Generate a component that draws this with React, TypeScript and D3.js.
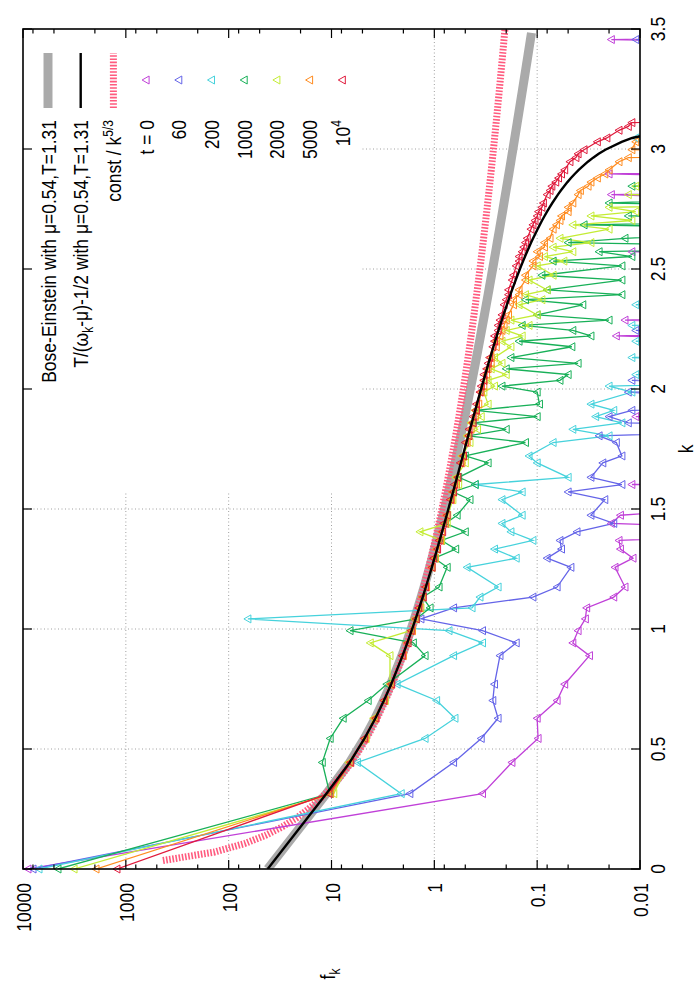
import * as d3 from "d3";

// k shells (|k| of lattice modes) up to 3.5
const kValues = [
  0, 0.314, 0.444, 0.544, 0.628, 0.702, 0.770,
  0.889, 0.942, 0.993, 1.042, 1.088, 1.133, 1.175,
  1.257, 1.295, 1.333, 1.369, 1.405, 1.440, 1.474,
  1.539, 1.571, 1.602, 1.632,
  1.692, 1.721,
  1.777, 1.805, 1.832, 1.859, 1.885, 1.911, 1.937,
  1.987, 2.012, 2.036, 2.060, 2.084, 2.107, 2.131,
  2.176, 2.199, 2.221, 2.244, 2.265, 2.287, 2.309,
  2.351, 2.372, 2.393, 2.413,
  2.454, 2.474,
  2.513, 2.533, 2.552, 2.572, 2.591, 2.610, 2.628,
  2.666, 2.684, 2.702, 2.721, 2.739, 2.757, 2.775,
  2.810, 2.827, 2.845, 2.862, 2.879, 2.896, 2.913,
  2.947, 2.964, 2.980, 2.997,
  3.030, 3.046,
  3.078, 3.094, 3.110, 3.126, 3.142, 3.157, 3.173,
  3.204, 3.219, 3.235, 3.250, 3.265, 3.280, 3.295,
  3.340, 3.354, 3.369, 3.384, 3.398, 3.413,
  3.441, 3.456, 3.470, 3.484,
];

// f_k per time (1e-4 = below the plotted range)
const fT0 = [
  8940, 0.34, 0.176, 0.098, 0.1, 0.064, 0.054,
  0.031, 0.045, 0.04, 0.034, 0.033, 0.018, 0.014,
  0.0175, 0.0117, 0.0155, 0.016, 1e-4, 0.019, 0.0155,
  1e-4, 1e-4, 0.012, 1e-4,
  1e-4, 1e-4,
  1e-4, 1e-4, 1e-4, 1e-4, 0.011, 1e-4, 1e-4,
  1e-4, 1e-4, 1e-4, 1e-4, 1e-4, 1e-4, 1e-4,
  1e-4, 1e-4, 0.017, 1e-4, 1e-4, 0.014, 1e-4,
  1e-4, 1e-4, 1e-4, 1e-4,
  1e-4, 1e-4,
  1e-4, 1e-4, 1e-4, 0.012, 1e-4, 1e-4, 1e-4,
  1e-4, 1e-4, 1e-4, 1e-4, 1e-4, 1e-4, 1e-4,
  0.019, 1e-4, 1e-4, 1e-4, 1e-4, 0.02, 1e-4,
  1e-4, 1e-4, 1e-4, 1e-4,
  1e-4, 1e-4,
  1e-4, 1e-4, 1e-4, 1e-4, 1e-4, 1e-4, 1e-4,
  1e-4, 1e-4, 1e-4, 1e-4, 1e-4, 1e-4, 1e-4,
  1e-4, 1e-4, 1e-4, 1e-4, 1e-4, 1e-4,
  1e-4, 0.019, 1e-4, 1e-4,
];

const fT60 = [
  7990, 1.73, 0.65, 0.35, 0.24, 0.27, 0.26,
  0.23, 0.16, 0.34, 1.35, 0.65, 0.11, 0.064,
  0.047, 0.08, 0.058, 0.06, 0.041, 0.018, 0.03,
  0.022, 0.05, 0.015, 0.03,
  0.023, 0.015,
  0.017, 0.025, 1e-4, 0.013, 0.02, 0.012, 1e-4,
  0.013, 1e-4, 0.012, 1e-4, 1e-4, 1e-4, 1e-4,
  1e-4, 1e-4, 1e-4, 0.011, 1e-4, 1e-4, 1e-4,
  1e-4, 1e-4, 1e-4, 1e-4,
  1e-4, 1e-4,
  1e-4, 1e-4, 1e-4, 1e-4, 1e-4, 1e-4, 1e-4,
  1e-4, 1e-4, 1e-4, 1e-4, 1e-4, 1e-4, 1e-4,
  1e-4, 1e-4, 1e-4, 1e-4, 1e-4, 1e-4, 1e-4,
  1e-4, 1e-4, 1e-4, 1e-4,
  1e-4, 1e-4,
  1e-4, 1e-4, 1e-4, 1e-4, 1e-4, 1e-4, 1e-4,
  1e-4, 1e-4, 1e-4, 1e-4, 1e-4, 1e-4, 1e-4,
  1e-4, 1e-4, 1e-4, 1e-4, 1e-4, 1e-4,
  1e-4, 0.011, 1e-4, 1e-4,
];

const fT200 = [
  6990, 2.1, 5.6, 1.23, 0.63, 0.95, 2.3,
  0.65, 0.34, 0.72, 65, 0.43, 0.36, 0.24,
  0.48, 0.16, 0.26, 0.11, 0.18, 0.22, 0.14,
  0.22, 0.14, 0.4, 0.05,
  0.1, 0.12,
  0.07, 0.02, 0.045, 0.015, 0.027, 0.018, 0.03,
  0.012, 0.02, 1e-4, 0.011, 1e-4, 1e-4, 0.012,
  1e-4, 0.011, 1e-4, 1e-4, 0.012, 1e-4, 1e-4,
  0.011, 1e-4, 1e-4, 1e-4,
  1e-4, 1e-4,
  1e-4, 1e-4, 1e-4, 1e-4, 1e-4, 1e-4, 1e-4,
  1e-4, 1e-4, 1e-4, 1e-4, 1e-4, 1e-4, 1e-4,
  1e-4, 1e-4, 1e-4, 1e-4, 1e-4, 1e-4, 1e-4,
  1e-4, 1e-4, 1e-4, 1e-4,
  1e-4, 0.011,
  1e-4, 1e-4, 1e-4, 1e-4, 1e-4, 1e-4, 1e-4,
  1e-4, 1e-4, 1e-4, 1e-4, 1e-4, 1e-4, 1e-4,
  1e-4, 1e-4, 1e-4, 1e-4, 1e-4, 1e-4,
  1e-4, 1e-4, 1e-4, 1e-4,
];

const fT1000 = [
  4570, 10.4, 12.3, 10.3, 7.7, 4.4, 2.9,
  1.23, 1.6, 6.6, 1.5, 1.1, 1.3, 0.9,
  0.75, 1.0, 0.62, 0.85, 0.5, 0.78, 0.6,
  0.45, 0.66, 0.4, 0.58,
  0.3, 0.5,
  0.13, 0.47, 0.2, 0.42, 0.1, 0.4, 0.095,
  0.1, 0.22, 0.06, 0.05, 0.2, 0.04, 0.18,
  0.046, 0.15, 0.03, 0.045, 0.14, 0.02, 0.1,
  0.036, 0.13, 0.015, 0.08,
  0.015, 0.09,
  0.015, 0.07, 0.012, 0.025, 1e-4, 0.05, 0.014,
  1e-4, 0.035, 1e-4, 0.013, 1e-4, 1e-4, 0.02,
  1e-4, 1e-4, 0.012, 1e-4, 1e-4, 1e-4, 1e-4,
  1e-4, 1e-4, 1e-4, 1e-4,
  1e-4, 1e-4,
  1e-4, 1e-4, 1e-4, 1e-4, 1e-4, 1e-4, 1e-4,
  1e-4, 1e-4, 1e-4, 1e-4, 1e-4, 1e-4, 1e-4,
  1e-4, 1e-4, 1e-4, 1e-4, 1e-4, 1e-4,
  1e-4, 1e-4, 1e-4, 1e-4,
];

const fT2000 = [
  3190, 9.5, 6.8, 4.6, 3.9, 3.0, 2.7,
  2.7, 4.2, 1.7, 1.55, 1.35, 1.3, 1.2,
  1.05, 0.98, 0.95, 0.85, 1.38, 0.75, 0.74,
  0.66, 0.65, 0.58, 0.62,
  0.5, 0.54,
  0.45, 0.48, 0.38, 0.44, 0.35, 0.4, 0.3,
  0.33, 0.26, 0.3, 0.2, 0.28, 0.22, 0.26,
  0.18, 0.22, 0.14, 0.2, 0.12, 0.18, 0.1,
  0.15, 0.09, 0.13, 0.08,
  0.12, 0.07,
  0.1, 0.055, 0.085, 0.045, 0.07, 0.03, 0.06,
  0.02, 0.045, 0.012, 0.03, 0.011, 0.02, 1e-4,
  0.013, 1e-4, 0.011, 1e-4, 1e-4, 1e-4, 1e-4,
  1e-4, 1e-4, 1e-4, 1e-4,
  1e-4, 1e-4,
  1e-4, 1e-4, 1e-4, 1e-4, 1e-4, 1e-4, 1e-4,
  1e-4, 1e-4, 1e-4, 1e-4, 1e-4, 1e-4, 1e-4,
  1e-4, 1e-4, 1e-4, 1e-4, 1e-4, 1e-4,
  1e-4, 1e-4, 1e-4, 1e-4,
];

const fT5000 = [
  1950, 10.2, 6.6, 4.7, 3.8, 3.05, 2.65,
  2.0, 1.85, 1.63, 1.53, 1.38, 1.31, 1.19,
  1.07, 0.98, 0.95, 0.87, 0.85, 0.78, 0.77,
  0.68, 0.67, 0.61, 0.6,
  0.54, 0.53,
  0.48, 0.47, 0.44, 0.43, 0.4, 0.4, 0.37,
  0.35, 0.33, 0.33, 0.31, 0.3, 0.28, 0.28,
  0.25, 0.25, 0.23, 0.22, 0.21, 0.2, 0.19,
  0.17, 0.17, 0.15, 0.15,
  0.13, 0.13,
  0.11, 0.11, 0.095, 0.1, 0.085, 0.085, 0.075,
  0.07, 0.065, 0.06, 0.058, 0.05, 0.05, 0.045,
  0.04, 0.038, 0.032, 0.03, 0.026, 0.022, 0.02,
  0.016, 0.013, 1e-4, 0.012,
  0.011, 1e-4,
  1e-4, 1e-4, 1e-4, 1e-4, 1e-4, 1e-4, 1e-4,
  1e-4, 1e-4, 1e-4, 1e-4, 1e-4, 1e-4, 1e-4,
  1e-4, 1e-4, 1e-4, 1e-4, 1e-4, 1e-4,
  1e-4, 1e-4, 1e-4, 1e-4,
];

const fT10000 = [
  1220, 10.6, 6.5, 4.8, 3.7, 3.1, 2.6,
  2.05, 1.8, 1.68, 1.5, 1.42, 1.28, 1.22,
  1.05, 1.02, 0.93, 0.9, 0.83, 0.81, 0.75,
  0.7, 0.65, 0.64, 0.59,
  0.56, 0.52,
  0.5, 0.46, 0.46, 0.42, 0.42, 0.39, 0.39,
  0.36, 0.35, 0.33, 0.33, 0.31, 0.3, 0.29,
  0.27, 0.26, 0.26, 0.24, 0.24, 0.23, 0.22,
  0.21, 0.2, 0.19, 0.19,
  0.175, 0.17,
  0.16, 0.15, 0.15, 0.14, 0.135, 0.13, 0.125,
  0.115, 0.11, 0.105, 0.1, 0.097, 0.09, 0.087,
  0.08, 0.075, 0.072, 0.066, 0.062, 0.058, 0.054,
  0.048, 0.042, 0.04, 0.035,
  0.026, 0.021,
  0.016, 0.013, 0.012, 1e-4, 1e-4, 1e-4, 1e-4,
  1e-4, 1e-4, 1e-4, 1e-4, 1e-4, 1e-4, 1e-4,
  1e-4, 1e-4, 1e-4, 1e-4, 1e-4, 1e-4,
  1e-4, 1e-4, 1e-4, 1e-4,
];

const seriesData = [fT0, fT60, fT200, fT1000, fT2000, fT5000, fT10000];
const seriesColors = ["#c040d8", "#6464e8", "#46d2dc", "#18b058", "#c4ec34", "#ff8c20", "#e01a3c"];

const fTicks = [10000, 1000, 100, 10, 1, 0.1, 0.01];
const fTickLabels = ["10000", "1000", "100", "10", "1", "0.1", "0.01"];
const fMinorTicks = [8000, 5000, 2000, 800, 500, 200, 80, 50, 20, 8, 5, 2, 0.8, 0.5, 0.2, 0.08, 0.05, 0.02];
const kTicks = [0, 0.5, 1, 1.5, 2, 2.5, 3, 3.5];
const kTickLabels = ["0", "0.5", "1", "1.5", "2", "2.5", "3", "3.5"];

// fit parameters from the key; omega_k = sqrt(k^2 + m^2)
const MU = 0.54;
const TEMP = 1.31;
const MASS = 0.571;
const KOLMO = 1.66;

const FONT = "'Liberation Sans', Arial, Helvetica, sans-serif";

const RText = ({ u, v, anchor = "middle", size = 17.5, children }: any) => (
  <text transform={`translate(${u},${v}) scale(1,1.2)`} textAnchor={anchor} fontSize={size} fill="#000">
    {children}
  </text>
);

export default function App() {
  const W = 700, H = 1000;
  const L = 131, R = 971, T = 23, B = 640;

  const xK = d3.scaleLinear().domain([0, 3.5]).range([L, R]);
  const yF = d3.scaleLog().domain([10000, 0.01]).range([T, B]);
  const line = d3.line<[number, number]>().x(d => xK(d[0])).y(d => yF(d[1]));

  // BE and RJ curves evaluated on the same k shells as the data
  const omega = (k: number) => Math.sqrt(k * k + MASS * MASS);
  const bePts: [number, number][] = kValues.map(k => [k, 1 / (Math.exp((omega(k) - MU) / TEMP) - 1)]);
  const rjPts: [number, number][] = [];
  for (const k of kValues) {
    const f = TEMP / (omega(k) - MU) - 0.5;
    if (f <= 0) break;
    rjPts.push([k, f]);
  }
  const kolPts: [number, number][] = d3.range(1, 100).map(i => {
    const k = (3.5 * i) / 99;
    return [k, KOLMO / Math.pow(k, 5 / 3)];
  });

  const tri = "M0,-4 L4,3 L-4,3 Z";
  const legendV = (i: number) => 48 + i * 32.7;
  const seriesLabels: any[] = ["t = 0", "60", "200", "1000", "2000", "5000", <>10<tspan dy={-7} fontSize={12}>4</tspan></>];

  return (
    <svg width={W} height={H} style={{ position: "absolute", left: 0, top: 0, background: "#fff" }} fontFamily={FONT}>
      <defs>
        <clipPath id="plotArea">
          <rect x={L} y={T} width={R - L} height={B - T} />
        </clipPath>
      </defs>
      <rect x={0} y={0} width={W} height={H} fill="#fff" />
      <g transform={`translate(0,${H}) rotate(-90)`}>
        {/* grid */}
        <g stroke="#a0a0a0" strokeWidth={1} strokeDasharray="1,2.5">
          {kTicks.slice(1, -1).map(k => (
            <line key={"gk" + k} x1={xK(k)} x2={xK(k)} y1={T} y2={B} />
          ))}
          {fTicks.slice(1, -1).map(f => (
            <line key={"gf" + f} x1={L} x2={R} y1={yF(f)} y2={yF(f)} />
          ))}
        </g>
        {/* opaque key box */}
        <rect x={507} y={T + 1} width={R - 507 - 1} height={360 - T} fill="#fff" />

        <g clipPath="url(#plotArea)" fill="none">
          <path d={line(bePts) || ""} stroke="#aaaaaa" strokeWidth={9} />
          <path d={line(kolPts) || ""} stroke="#ff5a7e" strokeWidth={7} strokeDasharray="1.6,1.6" />
          {seriesData.map((fs, si) => {
            const pts: [number, number][] = fs.slice(0, kValues.length).map((f, i) => [kValues[i], f]);
            return <path key={"s" + si} d={line(pts) || ""} stroke={seriesColors[si]} strokeWidth={1.3} />;
          })}
        </g>
        {seriesData.map((fs, si) => (
          <g key={"p" + si} fill="none" stroke={seriesColors[si]} strokeWidth={1}>
            {fs.slice(0, kValues.length).map((f, i) =>
              f >= 0.01 && f <= 10000 ? (
                <path key={i} d={tri} transform={`translate(${xK(kValues[i])},${yF(f)})`} />
              ) : null
            )}
          </g>
        ))}
        <g clipPath="url(#plotArea)" fill="none">
          <path d={line(rjPts) || ""} stroke="#000" strokeWidth={2.4} />
        </g>

        {/* border and ticks */}
        <rect x={L} y={T} width={R - L} height={B - T} fill="none" stroke="#000" strokeWidth={1.6} />
        <g stroke="#000" strokeWidth={1.2}>
          {fTicks.map(f => (
            <g key={"tf" + f}>
              <line x1={L} x2={L + 9} y1={yF(f)} y2={yF(f)} />
              <line x1={R} x2={R - 9} y1={yF(f)} y2={yF(f)} />
            </g>
          ))}
          {fMinorTicks.map(f => (
            <g key={"mf" + f}>
              <line x1={L} x2={L + 4.5} y1={yF(f)} y2={yF(f)} />
              <line x1={R} x2={R - 4.5} y1={yF(f)} y2={yF(f)} />
            </g>
          ))}
          {kTicks.map(k => (
            <g key={"tk" + k}>
              <line x1={xK(k)} x2={xK(k)} y1={B} y2={B - 9} />
              <line x1={xK(k)} x2={xK(k)} y1={T} y2={T + 9} />
            </g>
          ))}
        </g>

        {/* tick labels */}
        {fTicks.map((f, i) => (
          <RText key={"lf" + f} u={117} v={yF(f) + 8} anchor="end">{fTickLabels[i]}</RText>
        ))}
        {kTicks.map((k, i) => (
          <RText key={"lk" + k} u={xK(k)} v={B + 25}>{kTickLabels[i]}</RText>
        ))}
        <RText u={(L + R) / 2} v={693}>k</RText>
        <RText u={26} v={335}>f<tspan dy={4} fontSize={12}>k</tspan></RText>

        {/* key */}
        <RText u={880} v={legendV(0) + 7.5} anchor="end">Bose-Einstein with μ=0.54,T=1.31</RText>
        <line x1={892} x2={947} y1={legendV(0)} y2={legendV(0)} stroke="#aaaaaa" strokeWidth={9} />
        <RText u={880} v={legendV(1) + 7.5} anchor="end">
          T/(ω<tspan dy={4} fontSize={12}>k</tspan><tspan dy={-4}>-μ)-1/2 with μ=0.54,T=1.31</tspan>
        </RText>
        <line x1={892} x2={947} y1={legendV(1)} y2={legendV(1)} stroke="#000" strokeWidth={2.4} />
        <RText u={880} v={legendV(2) + 7.5} anchor="end">
          const / k<tspan dy={-7} fontSize={12}>5/3</tspan>
        </RText>
        <line x1={892} x2={947} y1={legendV(2)} y2={legendV(2)} stroke="#ff5a7e" strokeWidth={7} strokeDasharray="1.6,1.6" />
        {seriesLabels.map((lab, i) => (
          <g key={"lg" + i}>
            <RText u={880} v={legendV(i + 3) + 7.5} anchor="end">{lab}</RText>
            <path d={tri} transform={`translate(920,${legendV(i + 3)})`} fill="none" stroke={seriesColors[i]} strokeWidth={1} />
          </g>
        ))}
      </g>
    </svg>
  );
}
